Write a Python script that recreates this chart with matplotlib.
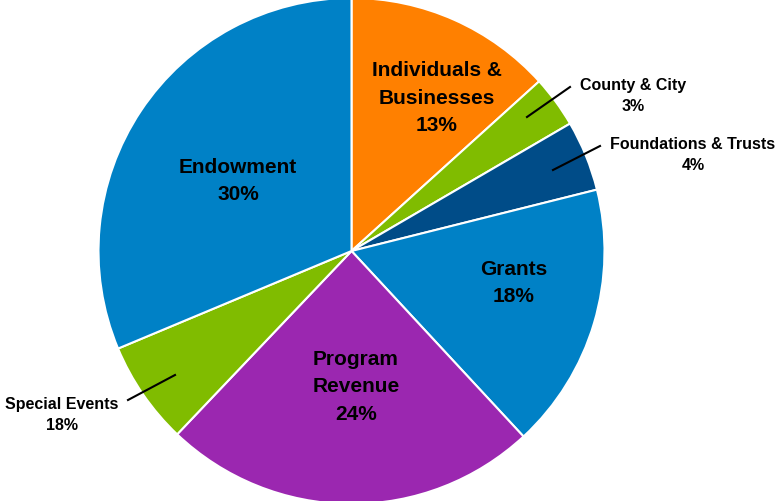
import matplotlib.pyplot as plt

plt.rcParams['font.family'] = ['Liberation Sans', 'DejaVu Sans']

# slice sizes as drawn (in percent of the circle)
sources = ['Individuals &\nBusinesses', 'County & City', 'Foundations & Trusts',
           'Grants', 'Program\nRevenue', 'Special Events', 'Endowment']
shares = [13.3, 3.3, 4.5, 17.0, 24.0, 6.6, 31.3]
# percent text as printed on the chart
pct_text = ['13%', '3%', '4%', '18%', '24%', '18%', '30%']
colors = ['#FF8000', '#80BC00', '#004C88', '#0081C6', '#9B27B0', '#80BC00', '#0081C6']

fig = plt.figure(figsize=(7.79, 5.01), dpi=100)
ax = fig.add_axes([0, 0, 1, 1])

wedges, _ = ax.pie(shares, colors=colors, startangle=90, counterclock=False,
                   radius=1.0, wedgeprops=dict(edgecolor='white', linewidth=1.5))

# 1 data unit = 253 px, pie centre at pixel (351.5, 251)
S = 253.0
CX, CY = 351.5, 251.0
ax.set_xlim(-CX / S, (779 - CX) / S)
ax.set_ylim(-(501 - CY) / S, CY / S)
ax.set_aspect('auto')
ax.axis('off')


def px(x, y):
    return (x - CX) / S, (CY - y) / S


big = dict(fontsize=15, fontweight='bold', ha='center', va='center', linespacing=1.55)
small = dict(fontsize=11.5, fontweight='bold', ha='center', va='center', linespacing=1.5)

# labels inside the slices
ax.text(*px(437, 98), sources[0] + '\n' + pct_text[0], **big)
ax.text(*px(514, 283), sources[3] + '\n' + pct_text[3], **big)
ax.text(*px(356, 387), sources[4] + '\n' + pct_text[4], **big)
ax.text(*px(238, 181), sources[6] + '\n' + pct_text[6], **big)

# labels outside with leader lines
ax.text(*px(633, 96), sources[1] + '\n' + pct_text[1], **small)
ax.text(*px(693, 155), sources[2] + '\n' + pct_text[2], **small)
ax.text(*px(62, 415), sources[5] + '\n' + pct_text[5], **small)

for (x0, y0), (x1, y1) in [((527, 117), (570, 87)),
                           ((553, 170), (600, 146)),
                           ((128, 400), (175, 375))]:
    a, b = px(x0, y0)
    c, d = px(x1, y1)
    ax.plot([a, c], [b, d], color='black', linewidth=1.5)

fig.savefig('out.png', dpi=100)
